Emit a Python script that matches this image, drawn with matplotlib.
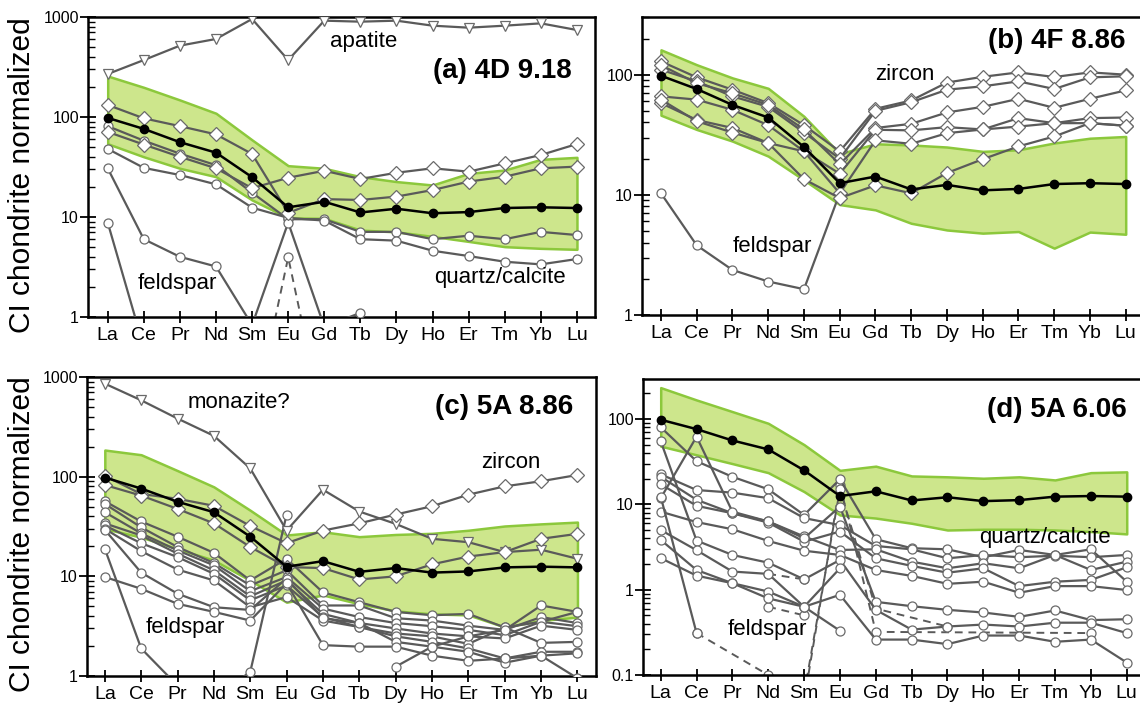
import numpy as np
import matplotlib.pyplot as plt
from matplotlib.ticker import LogLocator, FuncFormatter, NullFormatter

nan = np.nan
plt.rcParams['font.family'] = ['Liberation Sans', 'DejaVu Sans']

REE = ['La', 'Ce', 'Pr', 'Nd', 'Sm', 'Eu', 'Gd', 'Tb', 'Dy', 'Ho', 'Er', 'Tm', 'Yb', 'Lu']

# bulk sample (black line), same in every panel
bulk = [98, 76, 56, 44, 25, 12.5, 14.2, 11.1, 12.1, 10.9, 11.2, 12.3, 12.5, 12.3]

# green envelopes
band_a_hi = [257, 198, 148, 109, 59, 32.6, 30.7, 25.3, 22.6, 20.9, 27.3, 29.5, 37.7, 39.5]
band_a_lo = [54, 40, 30.7, 25.3, 14.8, 9.8, 9.7, 7.4, 7.1, 6.4, 5.7, 5.05, 4.86, 4.75]
band_b_hi = [161, 121, 94, 77, 45, 22, 26.6, 26, 25, 23, 23.7, 27, 29.6, 30.6]
band_b_lo = [46, 35, 28, 21, 13.3, 8.3, 7.5, 5.8, 5.1, 4.8, 4.95, 3.6, 4.9, 4.7]
band_c_hi = [185, 166, 115, 79, 46, 26, 28, 25, 26.3, 27, 29, 32, 33.6, 35]
band_c_lo = [30, 24.7, 18.9, 14.5, 9.1, 5.5, 6.5, 5.3, 4.5, 4.2, 4.1, 3.1, 3.6, 3.9]
band_d_hi = [233, 167, 122, 89, 50, 25, 28, 21.5, 21, 20.2, 21, 19.3, 23.5, 24]
band_d_lo = [48, 38, 30, 23.5, 14.1, 7.5, 6.9, 6.0, 5.0, 5.1, 5.1, 5.0, 4.8, 4.5]

# (a) 4D 9.18
a_apatite = [269, 371, 517, 603, 955, 371, 919, 898, 919, 819, 782, 819, 864, 741]
a_zircon = [
    [132, 97, 81, 67, 42.7, 11, 15.1, 14.8, 16, 18.6, 22.6, 25.3, 30.7, 31.9],
    [71, 53, 40, 30.7, 19.4, 24.7, 29, 24, 27.7, 30.7, 28.4, 34.4, 41.7, 53.7],
]
a_circles = [
    [81, 58, 43, 33, 17.5, 9.5, 9.5, 7.1, 7.1, 6.0, 6.5, 6.0, 7.1, 6.6],
    [48, 31, 26.3, 21.2, 12.4, 9.8, 9.2, 6.0, 5.8, 4.6, 4.07, 3.57, 3.36, 3.8],
    [30.7, 6.0, 4.0, 3.2, 0.83, 8.8, 0.8, 1.1, nan, nan, nan, nan, nan, nan],
    [8.8, 0.5, nan, nan, nan, nan, nan, nan, nan, nan, nan, nan, nan, nan],
]
a_dashed = [
    [nan, nan, nan, nan, 0.08, 3.95, 0.08, nan, nan, nan, nan, nan, nan, nan],
]

# (b) 4F 8.86
b_zircon = [
    [129, 95, 75, 58, 38, 23, 52, 61, 86, 96, 104.5, 95.6, 104.5, 100],
    [110, 88, 66, 54, 33, 20, 50, 59, 75, 80, 88, 76, 95, 97],
    [120, 85, 70, 56, 35, 18, 36, 39, 48.5, 54, 63, 53, 63, 74],
    [66, 62, 51, 38, 23, 15, 34.8, 34.4, 36.6, 35, 43.5, 39.5, 39.5, 37.6],
    [58, 42, 36, 27, 23, 10.3, 28.4, 26.6, 32.6, 35, 37, 39.5, 43.5, 44],
    [62, 41, 33, 27, 13.5, 9.4, 12, 10.3, 15.2, 19.8, 25.3, 30.6, 39.5, 37.6],
]
b_feldspar = [10.3, 3.8, 2.37, 1.9, 1.64, 10.3, nan, nan, nan, nan, nan, nan, nan, nan]

# (c) 5A 8.86
c_monazite = [858, 584, 383, 257, 121, 28.8, 74, 44.7, 33.6, 23.8, 22, 17.5, 18.5, 15]
c_zircon = [
    [102, 67, 60, 51, 32, 21.5, 28.8, 34, 41.7, 50.5, 66, 80, 90, 104],
    [82.5, 64.6, 47.5, 34, 19.7, 12.4, 12.1, 9.3, 10, 13.2, 15.8, 17.5, 23.8, 26.7],
]
c_circles = [
    [56.7, 35.5, 25, 17.2, 9.1, 15, 6.9, 5.5, 4.4, 4.07, 4.2, 3.07, 3.5, 4.4],
    [53.3, 31, 19.7, 13.6, 8.1, 11.5, 5.1, 5.1, 3.8, 3.6, 3.2, 2.9, 3.9, 3.4],
    [44, 27, 18.2, 12.9, 7.1, 9.85, 4.75, 3.9, 3.4, 3.16, 2.9, 2.57, 3.5, 3.16],
    [34, 25.7, 16.9, 11.5, 6.3, 9.1, 4.2, 3.4, 3.0, 2.67, 2.5, 2.38, 3.2, 2.9],
    [32.4, 21.5, 15.6, 10.6, 5.75, 8.1, 3.9, 3.1, 2.67, 2.5, 2.1, 3.07, 2.15, 2.2],
    [30, 17.9, 11.7, 9.1, 4.9, 6.2, 3.6, 3.1, 2.5, 2.2, 1.89, 1.5, 1.75, 1.75],
    [29.3, 10.9, 6.7, 4.9, 4.6, 9.5, 3.8, 3.4, 2.2, 1.97, 1.75, 1.36, 1.6, 1.69],
    [18.9, 1.89, 0.8, 0.6, 1.1, 41.7, nan, nan, nan, nan, nan, nan, nan, nan],
    [9.85, 7.5, 5.3, 4.4, 3.6, 8.5, 2.04, 1.97, 1.97, 1.6, 1.42, 1.5, 1.6, 0.95],
    [nan, nan, nan, nan, nan, nan, nan, nan, 1.24, 1.97, 2.5, 2.9, 5.1, 4.4],
]

# (d) 5A 6.06
d_circles = [
    [80, 32, 21, 15, 7.5, 19.7, 3.9, 3.06, 2.97, 2.4, 2.92, 2.55, 2.97, 1.24],
    [22.5, 14.7, 13.7, 11.8, 6.9, 5.7, 3.25, 2.97, 2.33, 2.55, 2.4, 2.5, 2.4, 2.55],
    [21, 11.3, 7.86, 6.3, 4.2, 2.92, 2.97, 2.13, 1.78, 2.04, 1.78, 2.55, 1.7, 2.13],
    [17.2, 9.6, 7.86, 6.1, 3.65, 4.8, 2.33, 1.9, 1.58, 1.78, 1.1, 1.24, 1.3, 1.83],
    [8.2, 6.2, 5.1, 3.72, 2.86, 2.55, 1.70, 1.45, 1.17, 1.24, 0.92, 1.1, 1.1, 0.99],
    [11.8, 62, 8.2, 6.3, 4.0, 9.4, 0.72, 0.64, 0.58, 0.54, 0.48, 0.57, 0.44, 0.45],
    [55, 3.76, 2.55, 2.07, 1.32, 2.23, 0.58, 0.34, 0.37, 0.39, 0.37, 0.41, 0.41, 0.31],
    [5.0, 2.9, 1.63, 1.53, 0.63, 0.87, 0.26, 0.26, 0.23, 0.29, 0.29, 0.245, 0.26, 0.14],
    [3.83, 1.7, 1.19, 0.95, 0.63, 1.78, nan, nan, nan, nan, nan, nan, nan, nan],
    [2.34, 1.46, 1.19, 0.79, 0.63, 0.33, nan, nan, nan, nan, nan, nan, nan, nan],
    [12.3, 0.31, nan, nan, nan, nan, nan, nan, nan, nan, nan, nan, nan, nan],
]
d_dashed = [
    [nan, 0.31, nan, 0.1, nan, nan, nan, nan, nan, nan, nan, nan, nan, nan],
    [nan, nan, nan, 1.53, 1.32, nan, nan, nan, nan, nan, nan, nan, nan, nan],
    [nan, nan, nan, 0.63, 0.5, nan, nan, nan, nan, nan, nan, nan, nan, nan],
    [nan, nan, nan, nan, 0.05, 16.9, 0.32, nan, nan, nan, nan, nan, 0.31, nan],
    [nan, nan, nan, nan, 0.06, 15, 0.6, nan, 0.37, nan, nan, nan, nan, nan],
]

W, H = 1140, 706
GREY = '#5a5a5a'
EDGE = '#6a6a6a'
FILL = '#cde68c'
FILL_EDGE = '#8cc83c'
x = np.arange(len(REE))


def box(l, t, r, b):
    return [l / W, 1 - b / H, (r - l) / W, (b - t) / H]


def setup(ax, ylim, xlim, right=True):
    ax.set_yscale('log')
    ax.set_ylim(ylim)
    ax.set_xlim(xlim)
    ax.set_xticks(x)
    ax.set_xticklabels(REE, fontsize=14)
    ax.yaxis.set_major_locator(LogLocator(base=10, numticks=10))
    ax.yaxis.set_minor_locator(LogLocator(base=10, subs=np.arange(2, 10), numticks=10))
    ax.yaxis.set_major_formatter(FuncFormatter(lambda v, p: f'{v:g}'))
    ax.yaxis.set_minor_formatter(NullFormatter())
    ax.tick_params(axis='y', which='major', direction='inout', length=11, width=1.3,
                   labelsize=11.5, pad=1)
    ax.tick_params(axis='y', which='minor', direction='in', length=5, width=1.0)
    ax.tick_params(axis='x', direction='inout', length=8, width=1.3, pad=3)
    for s in ax.spines.values():
        s.set_linewidth(1.8)
    if not right:
        ax.spines['right'].set_visible(False)


def band(ax, lo, hi):
    ax.fill_between(x, lo, hi, facecolor=FILL, edgecolor=FILL_EDGE, linewidth=1.8, zorder=1)


def lines(ax, series, marker='o', ms=6.5):
    for vals in series:
        ax.plot(x, vals, color=GREY, lw=1.6, marker=marker, ms=ms, mfc='white',
                mec=EDGE, mew=0.9, zorder=3)


def dashed(ax, series, ms=6.5):
    for vals in series:
        v = np.array(vals, float)
        m = ~np.isnan(v)
        ax.plot(x[m], v[m], color=GREY, lw=1.4, ls=(0, (4, 3)), marker='o', ms=ms,
                mfc='white', mec=EDGE, mew=0.9, zorder=2)


def mean_line(ax):
    ax.plot(x, bulk, color='black', lw=1.8, marker='o', ms=6, mfc='black', mec='black', zorder=5)


def label(px, py, s, **kw):
    fig.text(px / W, 1 - py / H, s, **kw)


fig = plt.figure(figsize=(11.4, 7.06), dpi=100)

ax_a = fig.add_axes(box(88, 17, 595, 317))
ax_b = fig.add_axes(box(642, 17, 1140, 315))
ax_c = fig.add_axes(box(87, 377, 596, 676))
ax_d = fig.add_axes(box(643, 379, 1140, 675))

setup(ax_a, (1, 1000), (-0.546, 13.5))
setup(ax_b, (1, 302), (-0.531, 13.4), right=False)
setup(ax_c, (1, 1000), (-0.49, 13.51))
setup(ax_d, (0.1, 294), (-0.494, 13.37), right=False)

# panel a
band(ax_a, band_a_lo, band_a_hi)
lines(ax_a, [a_apatite], marker='v', ms=7.5)
lines(ax_a, a_circles)
dashed(ax_a, a_dashed)
lines(ax_a, a_zircon, marker='D', ms=7.2)
mean_line(ax_a)

# panel b
band(ax_b, band_b_lo, band_b_hi)
lines(ax_b, [b_feldspar])
lines(ax_b, b_zircon, marker='D', ms=7.2)
mean_line(ax_b)

# panel c
band(ax_c, band_c_lo, band_c_hi)
lines(ax_c, c_circles)
lines(ax_c, [c_monazite], marker='v', ms=7.5)
lines(ax_c, c_zircon, marker='D', ms=7.2)
mean_line(ax_c)

# panel d
band(ax_d, band_d_lo, band_d_hi)
dashed(ax_d, d_dashed)
lines(ax_d, d_circles)
mean_line(ax_d)

# text
lab = dict(fontsize=16, ha='center', va='center')
ttl = dict(fontsize=20, fontweight='bold', ha='right', va='center')
label(572, 71, '(a) 4D 9.18', **ttl)
label(364, 42, 'apatite', **lab)
label(177, 284, 'feldspar', **lab)
label(500, 277, 'quartz/calcite', **lab)

label(1125, 41, '(b) 4F 8.86', **ttl)
label(905, 74, 'zircon', **lab)
label(772, 246, 'feldspar', **lab)

label(573, 407, '(c) 5A 8.86', **ttl)
label(239, 403, 'monazite?', **lab)
label(511, 463, 'zircon', **lab)
label(185, 627, 'feldspar', **lab)

label(1127, 410, '(d) 5A 6.06', **ttl)
label(1045, 537, 'quartz/calcite', **lab)
label(767, 629, 'feldspar', **lab)

label(22, 175, 'CI chondrite normalized', fontsize=21.5, rotation=90, ha='center', va='center')
label(22, 534, 'CI chondrite normalized', fontsize=21.5, rotation=90, ha='center', va='center')

fig.savefig('out.png', dpi=100)
